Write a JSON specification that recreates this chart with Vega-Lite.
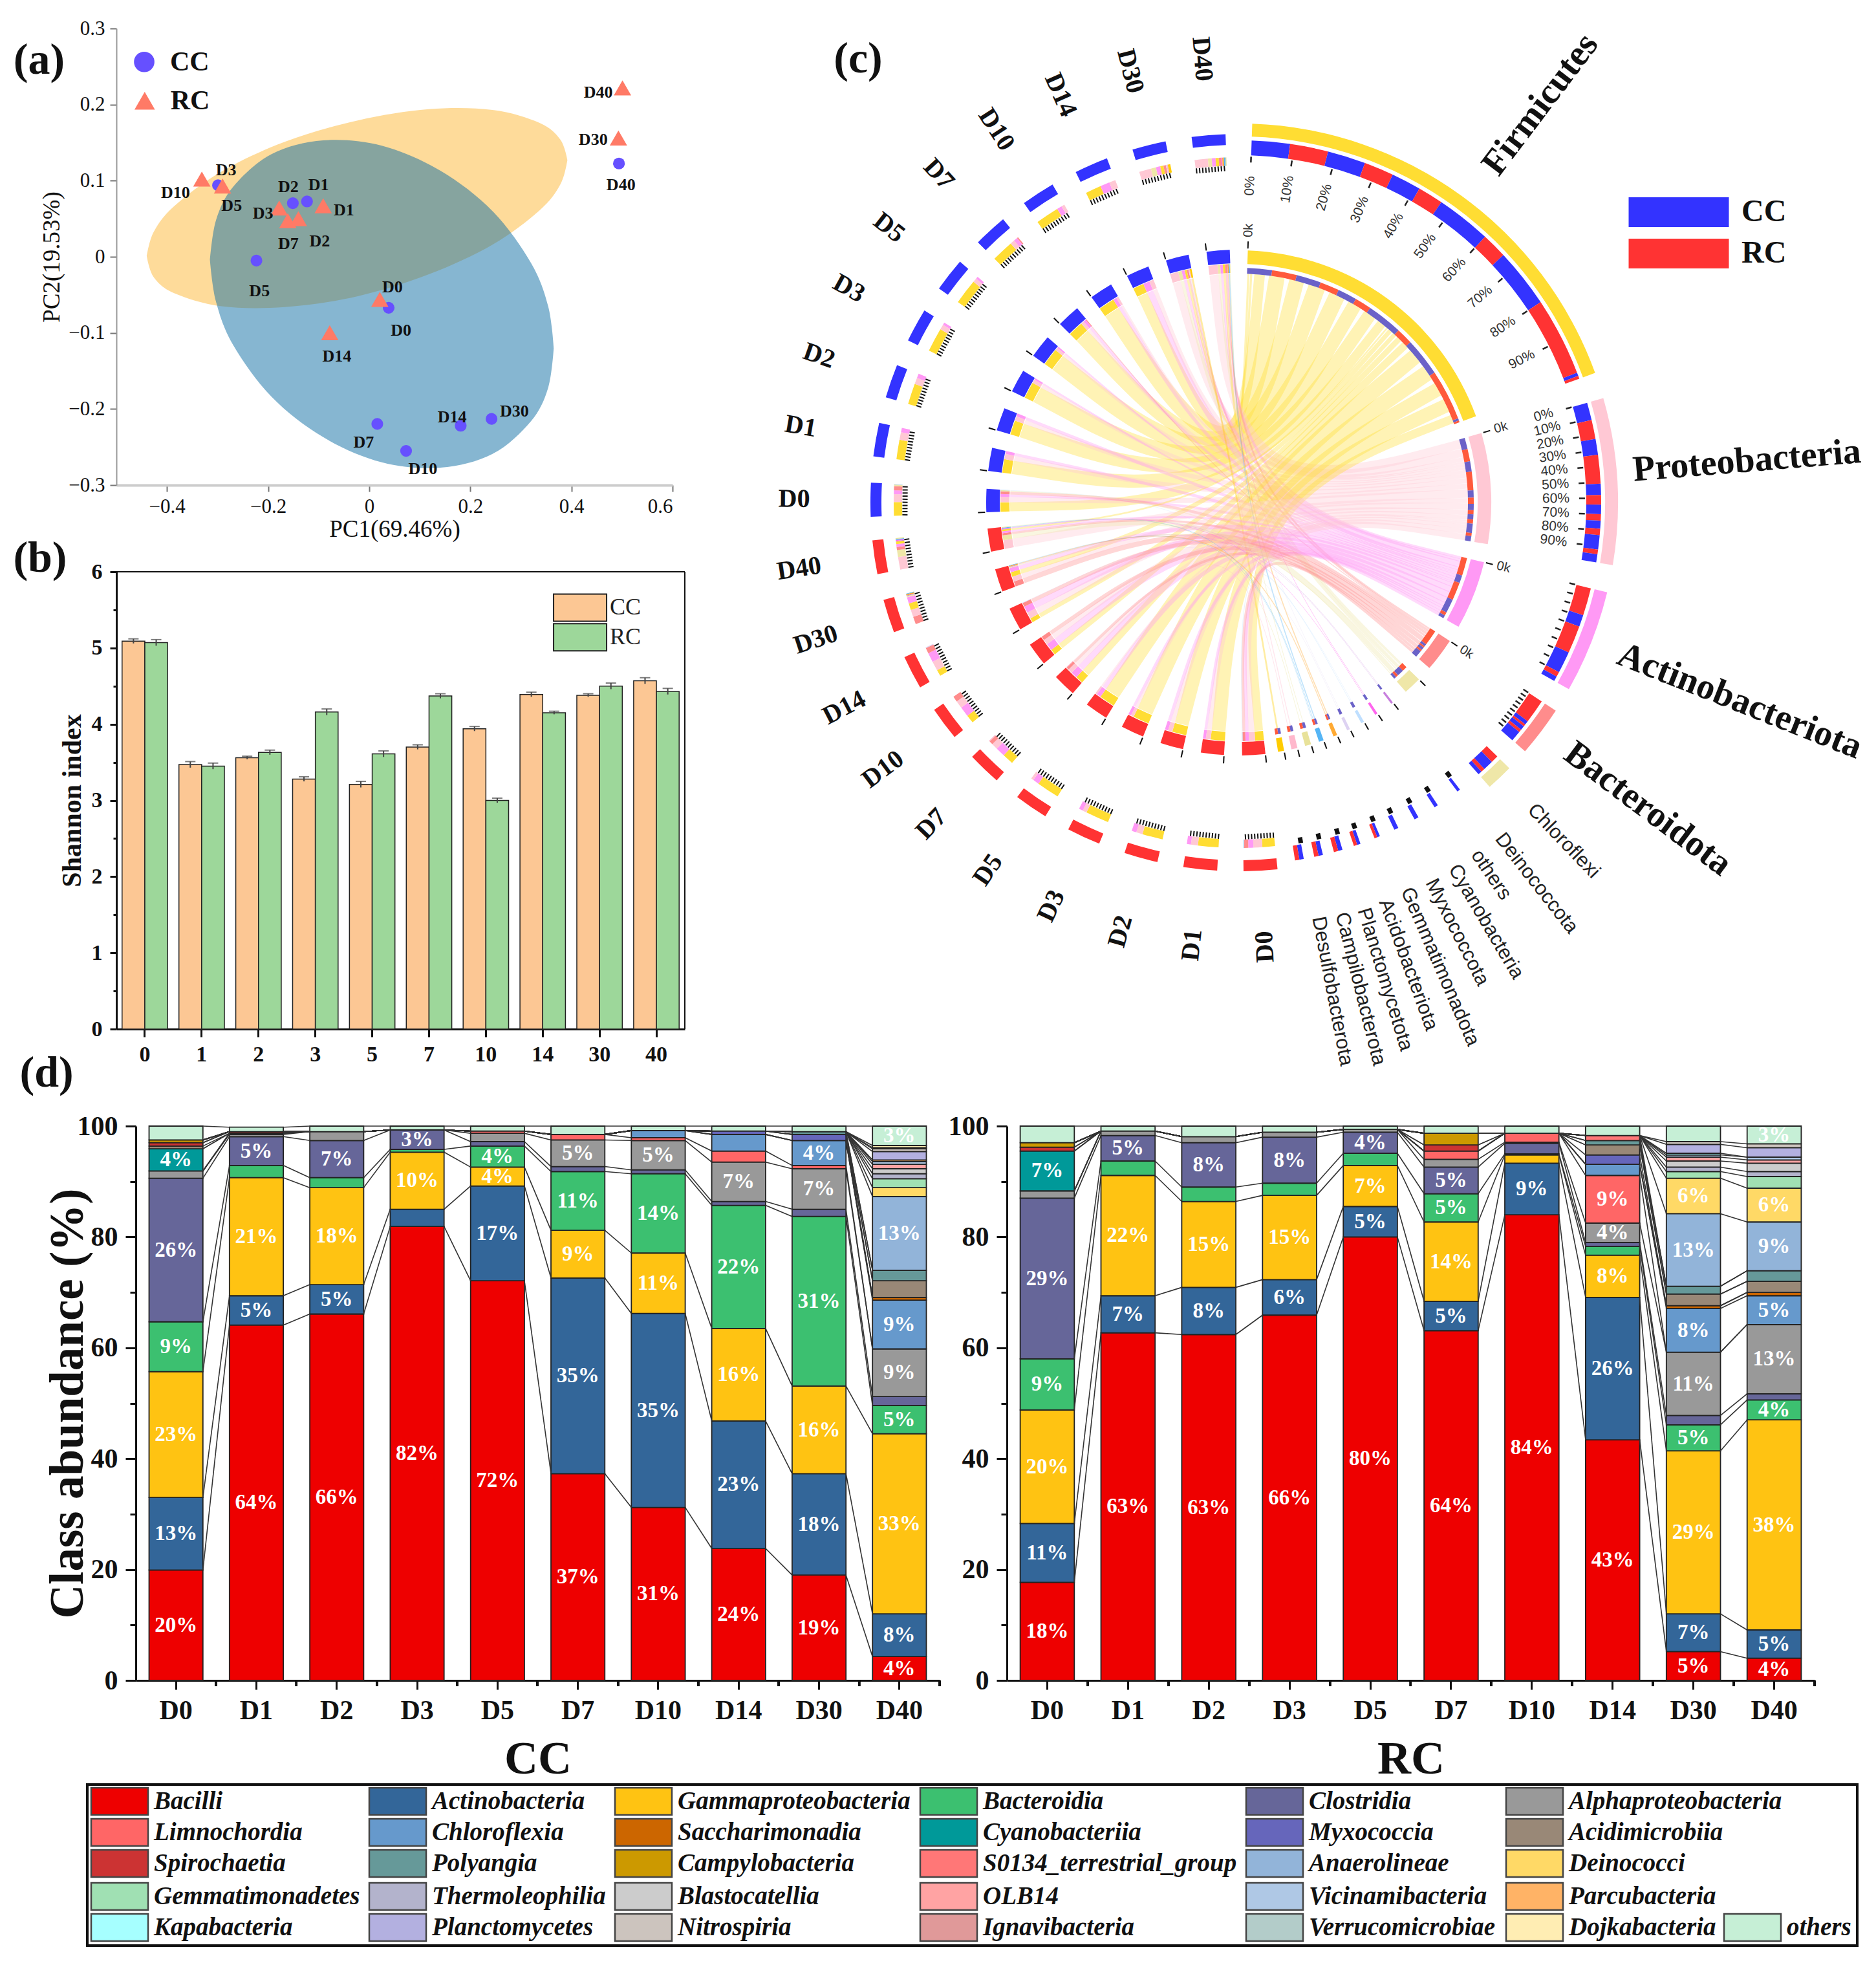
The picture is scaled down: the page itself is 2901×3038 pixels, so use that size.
{"$schema":"https://vega.github.io/schema/vega-lite/v6.json","background":"white","padding":{"left":20,"top":28,"right":5,"bottom":5},"autosize":{"type":"pad"},"config":{"font":"Liberation Serif","view":{"stroke":null},"axis":{"grid":false,"labelOverlap":false,"labelColor":"#111","titleColor":"#111"}},
"datasets":{
"classes":[{"class":"Bacilli","order":1,"col":1,"row":1},{"class":"Actinobacteria","order":2,"col":2,"row":1},{"class":"Gammaproteobacteria","order":3,"col":3,"row":1},{"class":"Bacteroidia","order":4,"col":4,"row":1},{"class":"Clostridia","order":5,"col":5,"row":1},{"class":"Alphaproteobacteria","order":6,"col":6,"row":1},{"class":"Limnochordia","order":7,"col":1,"row":2},{"class":"Chloroflexia","order":8,"col":2,"row":2},{"class":"Saccharimonadia","order":9,"col":3,"row":2},{"class":"Cyanobacteriia","order":10,"col":4,"row":2},{"class":"Myxococcia","order":11,"col":5,"row":2},{"class":"Acidimicrobiia","order":12,"col":6,"row":2},{"class":"Spirochaetia","order":13,"col":1,"row":3},{"class":"Polyangia","order":14,"col":2,"row":3},{"class":"Campylobacteria","order":15,"col":3,"row":3},{"class":"S0134_terrestrial_group","order":16,"col":4,"row":3},{"class":"Anaerolineae","order":17,"col":5,"row":3},{"class":"Deinococci","order":18,"col":6,"row":3},{"class":"Gemmatimonadetes","order":19,"col":1,"row":4},{"class":"Thermoleophilia","order":20,"col":2,"row":4},{"class":"Blastocatellia","order":21,"col":3,"row":4},{"class":"OLB14","order":22,"col":4,"row":4},{"class":"Vicinamibacteria","order":23,"col":5,"row":4},{"class":"Parcubacteria","order":24,"col":6,"row":4},{"class":"Kapabacteria","order":25,"col":1,"row":5},{"class":"Planctomycetes","order":26,"col":2,"row":5},{"class":"Nitrospiria","order":27,"col":3,"row":5},{"class":"Ignavibacteria","order":28,"col":4,"row":5},{"class":"Verrucomicrobiae","order":29,"col":5,"row":5},{"class":"Dojkabacteria","order":30,"col":6,"row":5},{"class":"others","order":31,"col":7,"row":5}],
"abundance":[
{"group":"CC","day":"D0","class":"Bacilli","value":19.9,"label":"20%"},{"group":"CC","day":"D0","class":"Actinobacteria","value":13.1,"label":"13%"},{"group":"CC","day":"D0","class":"Gammaproteobacteria","value":22.7,"label":"23%"},{"group":"CC","day":"D0","class":"Bacteroidia","value":9,"label":"9%"},{"group":"CC","day":"D0","class":"Clostridia","value":25.9,"label":"26%"},{"group":"CC","day":"D0","class":"Alphaproteobacteria","value":1.3},{"group":"CC","day":"D0","class":"Cyanobacteriia","value":4,"label":"4%"},{"group":"CC","day":"D0","class":"Acidimicrobiia","value":0.5},{"group":"CC","day":"D0","class":"Spirochaetia","value":0.6},{"group":"CC","day":"D0","class":"Campylobacteria","value":0.5},{"group":"CC","day":"D0","class":"others","value":2.5},
{"group":"CC","day":"D1","class":"Bacilli","value":64.1,"label":"64%"},{"group":"CC","day":"D1","class":"Actinobacteria","value":5.3,"label":"5%"},{"group":"CC","day":"D1","class":"Gammaproteobacteria","value":21.3,"label":"21%"},{"group":"CC","day":"D1","class":"Bacteroidia","value":2.2},{"group":"CC","day":"D1","class":"Clostridia","value":5.2,"label":"5%"},{"group":"CC","day":"D1","class":"Alphaproteobacteria","value":0.4},{"group":"CC","day":"D1","class":"Limnochordia","value":0.2},{"group":"CC","day":"D1","class":"Spirochaetia","value":0.3},{"group":"CC","day":"D1","class":"others","value":0.8},
{"group":"CC","day":"D2","class":"Bacilli","value":66.1,"label":"66%"},{"group":"CC","day":"D2","class":"Actinobacteria","value":5.3,"label":"5%"},{"group":"CC","day":"D2","class":"Gammaproteobacteria","value":17.5,"label":"18%"},{"group":"CC","day":"D2","class":"Bacteroidia","value":1.8},{"group":"CC","day":"D2","class":"Clostridia","value":6.7,"label":"7%"},{"group":"CC","day":"D2","class":"Alphaproteobacteria","value":1.6},{"group":"CC","day":"D2","class":"others","value":1},
{"group":"CC","day":"D3","class":"Bacilli","value":81.9,"label":"82%"},{"group":"CC","day":"D3","class":"Actinobacteria","value":3.1},{"group":"CC","day":"D3","class":"Gammaproteobacteria","value":10.3,"label":"10%"},{"group":"CC","day":"D3","class":"Bacteroidia","value":0.5},{"group":"CC","day":"D3","class":"Clostridia","value":3.5,"label":"3%"},{"group":"CC","day":"D3","class":"others","value":0.7},
{"group":"CC","day":"D5","class":"Bacilli","value":72.1,"label":"72%"},{"group":"CC","day":"D5","class":"Actinobacteria","value":17.1,"label":"17%"},{"group":"CC","day":"D5","class":"Gammaproteobacteria","value":3.4,"label":"4%"},{"group":"CC","day":"D5","class":"Bacteroidia","value":3.8,"label":"4%"},{"group":"CC","day":"D5","class":"Clostridia","value":0.8},{"group":"CC","day":"D5","class":"Alphaproteobacteria","value":1.5},{"group":"CC","day":"D5","class":"Limnochordia","value":0.4},{"group":"CC","day":"D5","class":"others","value":0.9},
{"group":"CC","day":"D7","class":"Bacilli","value":37.3,"label":"37%"},{"group":"CC","day":"D7","class":"Actinobacteria","value":35.3,"label":"35%"},{"group":"CC","day":"D7","class":"Gammaproteobacteria","value":8.6,"label":"9%"},{"group":"CC","day":"D7","class":"Bacteroidia","value":10.6,"label":"11%"},{"group":"CC","day":"D7","class":"Clostridia","value":0.9},{"group":"CC","day":"D7","class":"Alphaproteobacteria","value":4.8,"label":"5%"},{"group":"CC","day":"D7","class":"Limnochordia","value":1},{"group":"CC","day":"D7","class":"others","value":1.5},
{"group":"CC","day":"D10","class":"Bacilli","value":31.2,"label":"31%"},{"group":"CC","day":"D10","class":"Actinobacteria","value":35,"label":"35%"},{"group":"CC","day":"D10","class":"Gammaproteobacteria","value":10.9,"label":"11%"},{"group":"CC","day":"D10","class":"Bacteroidia","value":14.3,"label":"14%"},{"group":"CC","day":"D10","class":"Clostridia","value":0.7},{"group":"CC","day":"D10","class":"Alphaproteobacteria","value":5.3,"label":"5%"},{"group":"CC","day":"D10","class":"Limnochordia","value":0.5},{"group":"CC","day":"D10","class":"Chloroflexia","value":1.3},{"group":"CC","day":"D10","class":"others","value":0.8},
{"group":"CC","day":"D14","class":"Bacilli","value":23.8,"label":"24%"},{"group":"CC","day":"D14","class":"Actinobacteria","value":23,"label":"23%"},{"group":"CC","day":"D14","class":"Gammaproteobacteria","value":16.7,"label":"16%"},{"group":"CC","day":"D14","class":"Bacteroidia","value":22.2,"label":"22%"},{"group":"CC","day":"D14","class":"Clostridia","value":0.7},{"group":"CC","day":"D14","class":"Alphaproteobacteria","value":7.1,"label":"7%"},{"group":"CC","day":"D14","class":"Limnochordia","value":2},{"group":"CC","day":"D14","class":"Chloroflexia","value":3},{"group":"CC","day":"D14","class":"Myxococcia","value":0.6},{"group":"CC","day":"D14","class":"others","value":0.9},
{"group":"CC","day":"D30","class":"Bacilli","value":19,"label":"19%"},{"group":"CC","day":"D30","class":"Actinobacteria","value":18.3,"label":"18%"},{"group":"CC","day":"D30","class":"Gammaproteobacteria","value":15.8,"label":"16%"},{"group":"CC","day":"D30","class":"Bacteroidia","value":30.6,"label":"31%"},{"group":"CC","day":"D30","class":"Clostridia","value":1.3},{"group":"CC","day":"D30","class":"Alphaproteobacteria","value":7.3,"label":"7%"},{"group":"CC","day":"D30","class":"Limnochordia","value":0.6},{"group":"CC","day":"D30","class":"Chloroflexia","value":4.5,"label":"4%"},{"group":"CC","day":"D30","class":"Myxococcia","value":1.1},{"group":"CC","day":"D30","class":"Polyangia","value":0.5},{"group":"CC","day":"D30","class":"others","value":1},
{"group":"CC","day":"D40","class":"Bacilli","value":4.3,"label":"4%"},{"group":"CC","day":"D40","class":"Actinobacteria","value":7.7,"label":"8%"},{"group":"CC","day":"D40","class":"Gammaproteobacteria","value":32.5,"label":"33%"},{"group":"CC","day":"D40","class":"Bacteroidia","value":5.1,"label":"5%"},{"group":"CC","day":"D40","class":"Clostridia","value":1.6},{"group":"CC","day":"D40","class":"Alphaproteobacteria","value":8.6,"label":"9%"},{"group":"CC","day":"D40","class":"Chloroflexia","value":8.8,"label":"9%"},{"group":"CC","day":"D40","class":"Saccharimonadia","value":0.5},{"group":"CC","day":"D40","class":"Acidimicrobiia","value":3},{"group":"CC","day":"D40","class":"Polyangia","value":1.9},{"group":"CC","day":"D40","class":"Anaerolineae","value":13.3,"label":"13%"},{"group":"CC","day":"D40","class":"Deinococci","value":1.6},{"group":"CC","day":"D40","class":"Gemmatimonadetes","value":1.6},{"group":"CC","day":"D40","class":"Thermoleophilia","value":0.9},{"group":"CC","day":"D40","class":"Blastocatellia","value":0.9},{"group":"CC","day":"D40","class":"OLB14","value":0.8},{"group":"CC","day":"D40","class":"Vicinamibacteria","value":0.5},{"group":"CC","day":"D40","class":"Parcubacteria","value":0.3},{"group":"CC","day":"D40","class":"Planctomycetes","value":1.5},{"group":"CC","day":"D40","class":"Nitrospiria","value":0.5},{"group":"CC","day":"D40","class":"Ignavibacteria","value":0.2},{"group":"CC","day":"D40","class":"Dojkabacteria","value":0.4},{"group":"CC","day":"D40","class":"others","value":3.5,"label":"3%"},
{"group":"RC","day":"D0","class":"Bacilli","value":17.7,"label":"18%"},{"group":"RC","day":"D0","class":"Actinobacteria","value":10.6,"label":"11%"},{"group":"RC","day":"D0","class":"Gammaproteobacteria","value":20.5,"label":"20%"},{"group":"RC","day":"D0","class":"Bacteroidia","value":9.2,"label":"9%"},{"group":"RC","day":"D0","class":"Clostridia","value":29,"label":"29%"},{"group":"RC","day":"D0","class":"Alphaproteobacteria","value":1.3},{"group":"RC","day":"D0","class":"Cyanobacteriia","value":7.2,"label":"7%"},{"group":"RC","day":"D0","class":"Spirochaetia","value":0.7},{"group":"RC","day":"D0","class":"Campylobacteria","value":0.8},{"group":"RC","day":"D0","class":"others","value":3},
{"group":"RC","day":"D1","class":"Bacilli","value":62.7,"label":"63%"},{"group":"RC","day":"D1","class":"Actinobacteria","value":6.7,"label":"7%"},{"group":"RC","day":"D1","class":"Gammaproteobacteria","value":21.7,"label":"22%"},{"group":"RC","day":"D1","class":"Bacteroidia","value":2.6},{"group":"RC","day":"D1","class":"Clostridia","value":4.6,"label":"5%"},{"group":"RC","day":"D1","class":"Alphaproteobacteria","value":0.8},{"group":"RC","day":"D1","class":"others","value":0.9},
{"group":"RC","day":"D2","class":"Bacilli","value":62.4,"label":"63%"},{"group":"RC","day":"D2","class":"Actinobacteria","value":8.5,"label":"8%"},{"group":"RC","day":"D2","class":"Gammaproteobacteria","value":15.5,"label":"15%"},{"group":"RC","day":"D2","class":"Bacteroidia","value":2.6},{"group":"RC","day":"D2","class":"Clostridia","value":8,"label":"8%"},{"group":"RC","day":"D2","class":"Alphaproteobacteria","value":1.1},{"group":"RC","day":"D2","class":"others","value":1.9},
{"group":"RC","day":"D3","class":"Bacilli","value":65.9,"label":"66%"},{"group":"RC","day":"D3","class":"Actinobacteria","value":6.4,"label":"6%"},{"group":"RC","day":"D3","class":"Gammaproteobacteria","value":15.2,"label":"15%"},{"group":"RC","day":"D3","class":"Bacteroidia","value":2.2},{"group":"RC","day":"D3","class":"Clostridia","value":8.3,"label":"8%"},{"group":"RC","day":"D3","class":"Alphaproteobacteria","value":0.9},{"group":"RC","day":"D3","class":"others","value":1.1},
{"group":"RC","day":"D5","class":"Bacilli","value":80,"label":"80%"},{"group":"RC","day":"D5","class":"Actinobacteria","value":5.5,"label":"5%"},{"group":"RC","day":"D5","class":"Gammaproteobacteria","value":7.4,"label":"7%"},{"group":"RC","day":"D5","class":"Bacteroidia","value":2.2},{"group":"RC","day":"D5","class":"Clostridia","value":3.8,"label":"4%"},{"group":"RC","day":"D5","class":"Alphaproteobacteria","value":0.5},{"group":"RC","day":"D5","class":"others","value":0.6},
{"group":"RC","day":"D7","class":"Bacilli","value":63.1,"label":"64%"},{"group":"RC","day":"D7","class":"Actinobacteria","value":5.3,"label":"5%"},{"group":"RC","day":"D7","class":"Gammaproteobacteria","value":14.3,"label":"14%"},{"group":"RC","day":"D7","class":"Bacteroidia","value":5.1,"label":"5%"},{"group":"RC","day":"D7","class":"Clostridia","value":4.8,"label":"5%"},{"group":"RC","day":"D7","class":"Alphaproteobacteria","value":1.4},{"group":"RC","day":"D7","class":"Limnochordia","value":1.5},{"group":"RC","day":"D7","class":"Spirochaetia","value":1.1},{"group":"RC","day":"D7","class":"Campylobacteria","value":2.1},{"group":"RC","day":"D7","class":"others","value":1.3},
{"group":"RC","day":"D10","class":"Bacilli","value":84,"label":"84%"},{"group":"RC","day":"D10","class":"Actinobacteria","value":9.3,"label":"9%"},{"group":"RC","day":"D10","class":"Gammaproteobacteria","value":1.5},{"group":"RC","day":"D10","class":"Bacteroidia","value":0.2},{"group":"RC","day":"D10","class":"Clostridia","value":1.9},{"group":"RC","day":"D10","class":"Alphaproteobacteria","value":0.2},{"group":"RC","day":"D10","class":"Limnochordia","value":1.6},{"group":"RC","day":"D10","class":"others","value":1.3},
{"group":"RC","day":"D14","class":"Bacilli","value":43.4,"label":"43%"},{"group":"RC","day":"D14","class":"Actinobacteria","value":25.7,"label":"26%"},{"group":"RC","day":"D14","class":"Gammaproteobacteria","value":7.6,"label":"8%"},{"group":"RC","day":"D14","class":"Bacteroidia","value":1.6},{"group":"RC","day":"D14","class":"Clostridia","value":0.7},{"group":"RC","day":"D14","class":"Alphaproteobacteria","value":3.5,"label":"4%"},{"group":"RC","day":"D14","class":"Limnochordia","value":8.6,"label":"9%"},{"group":"RC","day":"D14","class":"Chloroflexia","value":2},{"group":"RC","day":"D14","class":"Myxococcia","value":1.7},{"group":"RC","day":"D14","class":"Acidimicrobiia","value":1.8},{"group":"RC","day":"D14","class":"Polyangia","value":0.8},{"group":"RC","day":"D14","class":"S0134_terrestrial_group","value":0.9},{"group":"RC","day":"D14","class":"others","value":1.7},
{"group":"RC","day":"D30","class":"Bacilli","value":5.2,"label":"5%"},{"group":"RC","day":"D30","class":"Actinobacteria","value":6.8,"label":"7%"},{"group":"RC","day":"D30","class":"Gammaproteobacteria","value":29.4,"label":"29%"},{"group":"RC","day":"D30","class":"Bacteroidia","value":4.7,"label":"5%"},{"group":"RC","day":"D30","class":"Clostridia","value":1.7},{"group":"RC","day":"D30","class":"Alphaproteobacteria","value":11.4,"label":"11%"},{"group":"RC","day":"D30","class":"Chloroflexia","value":7.9,"label":"8%"},{"group":"RC","day":"D30","class":"Saccharimonadia","value":0.5},{"group":"RC","day":"D30","class":"Acidimicrobiia","value":2.1},{"group":"RC","day":"D30","class":"Polyangia","value":1.4},{"group":"RC","day":"D30","class":"Anaerolineae","value":13.1,"label":"13%"},{"group":"RC","day":"D30","class":"Deinococci","value":6.4,"label":"6%"},{"group":"RC","day":"D30","class":"Gemmatimonadetes","value":1.2},{"group":"RC","day":"D30","class":"Thermoleophilia","value":0.8},{"group":"RC","day":"D30","class":"Blastocatellia","value":1.1},{"group":"RC","day":"D30","class":"OLB14","value":0.7},{"group":"RC","day":"D30","class":"Vicinamibacteria","value":0.4},{"group":"RC","day":"D30","class":"Kapabacteria","value":0.3},{"group":"RC","day":"D30","class":"Planctomycetes","value":1.6},{"group":"RC","day":"D30","class":"Nitrospiria","value":0.5},{"group":"RC","day":"D30","class":"others","value":2.8},
{"group":"RC","day":"D40","class":"Bacilli","value":4,"label":"4%"},{"group":"RC","day":"D40","class":"Actinobacteria","value":5.1,"label":"5%"},{"group":"RC","day":"D40","class":"Gammaproteobacteria","value":37.9,"label":"38%"},{"group":"RC","day":"D40","class":"Bacteroidia","value":3.6,"label":"4%"},{"group":"RC","day":"D40","class":"Clostridia","value":1.1},{"group":"RC","day":"D40","class":"Alphaproteobacteria","value":12.5,"label":"13%"},{"group":"RC","day":"D40","class":"Chloroflexia","value":5.2,"label":"5%"},{"group":"RC","day":"D40","class":"Saccharimonadia","value":0.6},{"group":"RC","day":"D40","class":"Acidimicrobiia","value":2},{"group":"RC","day":"D40","class":"Polyangia","value":1.9},{"group":"RC","day":"D40","class":"Anaerolineae","value":8.8,"label":"9%"},{"group":"RC","day":"D40","class":"Deinococci","value":6.1,"label":"6%"},{"group":"RC","day":"D40","class":"Gemmatimonadetes","value":2.1},{"group":"RC","day":"D40","class":"Thermoleophilia","value":0.9},{"group":"RC","day":"D40","class":"Blastocatellia","value":1.5},{"group":"RC","day":"D40","class":"OLB14","value":0.6},{"group":"RC","day":"D40","class":"Vicinamibacteria","value":0.5},{"group":"RC","day":"D40","class":"Planctomycetes","value":1.7},{"group":"RC","day":"D40","class":"Nitrospiria","value":0.7},{"group":"RC","day":"D40","class":"others","value":3.2,"label":"3%"}],
"days":[{"side":"CC","day":"D0","start":267.8},{"side":"CC","day":"D1","start":277.2},{"side":"CC","day":"D2","start":286.6},{"side":"CC","day":"D3","start":296.1},{"side":"CC","day":"D5","start":305.5},{"side":"CC","day":"D7","start":314.9},{"side":"CC","day":"D10","start":324.3},{"side":"CC","day":"D14","start":333.7},{"side":"CC","day":"D30","start":343.2},{"side":"CC","day":"D40","start":352.6},{"side":"RC","day":"D0","start":174},{"side":"RC","day":"D1","start":183.4},{"side":"RC","day":"D2","start":192.8},{"side":"RC","day":"D3","start":202.3},{"side":"RC","day":"D5","start":211.7},{"side":"RC","day":"D7","start":221.1},{"side":"RC","day":"D10","start":230.5},{"side":"RC","day":"D14","start":239.9},{"side":"RC","day":"D30","start":249.4},{"side":"RC","day":"D40","start":258.8}],
"sectors":[{"phylum":"Firmicutes","a0":2,"a1":70,"labelAngle":37.1,"labelRadius":772,"kind":"major"},{"phylum":"Proteobacteria","a0":74,"a1":99.5,"labelAngle":85.3,"labelRadius":788,"kind":"major"},{"phylum":"Actinobacteriota","a0":103.7,"a1":119.5,"labelAngle":111.6,"labelRadius":833,"kind":"major"},{"phylum":"Bacteroidota","a0":123.3,"a1":131,"labelAngle":126.8,"labelRadius":790,"kind":"major"},{"phylum":"Chloroflexi","a0":134.5,"a1":138.6,"labelAngle":136.2,"labelRadius":725,"kind":"minor"},{"phylum":"Deinococcota","a0":142.4,"a1":142.9,"labelAngle":142,"labelRadius":747,"kind":"small"},{"phylum":"others","a0":146.7,"a1":147.3,"labelAngle":145.9,"labelRadius":695,"kind":"small"},{"phylum":"Cyanobacteria","a0":150.3,"a1":151,"labelAngle":149.5,"labelRadius":752,"kind":"small"},{"phylum":"Myxococcota","a0":153.9,"a1":154.6,"labelAngle":153.1,"labelRadius":745,"kind":"small"},{"phylum":"Gemmatimonadota","a0":157.1,"a1":158,"labelAngle":156.6,"labelRadius":782,"kind":"small"},{"phylum":"Acidobacteriota","a0":160.4,"a1":161.5,"labelAngle":159.9,"labelRadius":761,"kind":"small"},{"phylum":"Planctomycetota","a0":163.4,"a1":164.8,"labelAngle":163,"labelRadius":771,"kind":"small"},{"phylum":"Campilobacterota","a0":166.6,"a1":168,"labelAngle":166,"labelRadius":775,"kind":"small"},{"phylum":"Desulfobacterota","a0":169.7,"a1":171.1,"labelAngle":169.2,"labelRadius":769,"kind":"small"}],
"segments":[
{"side":"CC","day":"D0","start":267.8,"phylum":"Firmicutes","share":0.43},{"side":"CC","day":"D0","start":267.8,"phylum":"Proteobacteria","share":0.25},{"side":"CC","day":"D0","start":267.8,"phylum":"Actinobacteriota","share":0.12},{"side":"CC","day":"D0","start":267.8,"phylum":"Bacteroidota","share":0.13},{"side":"CC","day":"D0","start":267.8,"phylum":"Chloroflexi","share":0.05},{"side":"CC","day":"D0","start":267.8,"phylum":"Cyanobacteria","share":0.02},
{"side":"CC","day":"D1","start":277.2,"phylum":"Firmicutes","share":0.62},{"side":"CC","day":"D1","start":277.2,"phylum":"Proteobacteria","share":0.24},{"side":"CC","day":"D1","start":277.2,"phylum":"Actinobacteriota","share":0.14},
{"side":"CC","day":"D2","start":286.6,"phylum":"Firmicutes","share":0.66},{"side":"CC","day":"D2","start":286.6,"phylum":"Proteobacteria","share":0.2},{"side":"CC","day":"D2","start":286.6,"phylum":"Actinobacteriota","share":0.14},
{"side":"CC","day":"D3","start":296.1,"phylum":"Firmicutes","share":0.76},{"side":"CC","day":"D3","start":296.1,"phylum":"Proteobacteria","share":0.16},{"side":"CC","day":"D3","start":296.1,"phylum":"Actinobacteriota","share":0.08},
{"side":"CC","day":"D5","start":305.5,"phylum":"Firmicutes","share":0.8},{"side":"CC","day":"D5","start":305.5,"phylum":"Proteobacteria","share":0.13},{"side":"CC","day":"D5","start":305.5,"phylum":"Actinobacteriota","share":0.07},
{"side":"CC","day":"D7","start":314.9,"phylum":"Firmicutes","share":0.7},{"side":"CC","day":"D7","start":314.9,"phylum":"Proteobacteria","share":0.14},{"side":"CC","day":"D7","start":314.9,"phylum":"Actinobacteriota","share":0.12},{"side":"CC","day":"D7","start":314.9,"phylum":"Bacteroidota","share":0.04},
{"side":"CC","day":"D10","start":324.3,"phylum":"Firmicutes","share":0.74},{"side":"CC","day":"D10","start":324.3,"phylum":"Actinobacteriota","share":0.16},{"side":"CC","day":"D10","start":324.3,"phylum":"Proteobacteria","share":0.1},
{"side":"CC","day":"D14","start":333.7,"phylum":"Firmicutes","share":0.5},{"side":"CC","day":"D14","start":333.7,"phylum":"Actinobacteriota","share":0.3},{"side":"CC","day":"D14","start":333.7,"phylum":"Proteobacteria","share":0.2},
{"side":"CC","day":"D30","start":343.2,"phylum":"Proteobacteria","share":0.38},{"side":"CC","day":"D30","start":343.2,"phylum":"Chloroflexi","share":0.16},{"side":"CC","day":"D30","start":343.2,"phylum":"Actinobacteriota","share":0.14},{"side":"CC","day":"D30","start":343.2,"phylum":"Firmicutes","share":0.1},{"side":"CC","day":"D30","start":343.2,"phylum":"Bacteroidota","share":0.08},{"side":"CC","day":"D30","start":343.2,"phylum":"Myxococcota","share":0.02},{"side":"CC","day":"D30","start":343.2,"phylum":"Campilobacterota","share":0.04},{"side":"CC","day":"D30","start":343.2,"phylum":"Desulfobacterota","share":0.08},
{"side":"CC","day":"D40","start":352.6,"phylum":"Proteobacteria","share":0.42},{"side":"CC","day":"D40","start":352.6,"phylum":"Chloroflexi","share":0.12},{"side":"CC","day":"D40","start":352.6,"phylum":"Actinobacteriota","share":0.12},{"side":"CC","day":"D40","start":352.6,"phylum":"Firmicutes","share":0.1},{"side":"CC","day":"D40","start":352.6,"phylum":"Bacteroidota","share":0.08},{"side":"CC","day":"D40","start":352.6,"phylum":"others","share":0.03},{"side":"CC","day":"D40","start":352.6,"phylum":"Gemmatimonadota","share":0.05},{"side":"CC","day":"D40","start":352.6,"phylum":"Acidobacteriota","share":0.05},{"side":"CC","day":"D40","start":352.6,"phylum":"Planctomycetota","share":0.03},
{"side":"RC","day":"D0","start":174,"phylum":"Firmicutes","share":0.4},{"side":"RC","day":"D0","start":174,"phylum":"Proteobacteria","share":0.28},{"side":"RC","day":"D0","start":174,"phylum":"Actinobacteriota","share":0.16},{"side":"RC","day":"D0","start":174,"phylum":"Bacteroidota","share":0.13},{"side":"RC","day":"D0","start":174,"phylum":"Cyanobacteria","share":0.03},
{"side":"RC","day":"D1","start":183.4,"phylum":"Firmicutes","share":0.65},{"side":"RC","day":"D1","start":183.4,"phylum":"Proteobacteria","share":0.22},{"side":"RC","day":"D1","start":183.4,"phylum":"Actinobacteriota","share":0.13},
{"side":"RC","day":"D2","start":192.8,"phylum":"Firmicutes","share":0.65},{"side":"RC","day":"D2","start":192.8,"phylum":"Proteobacteria","share":0.2},{"side":"RC","day":"D2","start":192.8,"phylum":"Actinobacteriota","share":0.15},
{"side":"RC","day":"D3","start":202.3,"phylum":"Firmicutes","share":0.74},{"side":"RC","day":"D3","start":202.3,"phylum":"Proteobacteria","share":0.13},{"side":"RC","day":"D3","start":202.3,"phylum":"Actinobacteriota","share":0.13},
{"side":"RC","day":"D5","start":211.7,"phylum":"Firmicutes","share":0.72},{"side":"RC","day":"D5","start":211.7,"phylum":"Actinobacteriota","share":0.2},{"side":"RC","day":"D5","start":211.7,"phylum":"Proteobacteria","share":0.08},
{"side":"RC","day":"D7","start":221.1,"phylum":"Firmicutes","share":0.35},{"side":"RC","day":"D7","start":221.1,"phylum":"Actinobacteriota","share":0.3},{"side":"RC","day":"D7","start":221.1,"phylum":"Proteobacteria","share":0.2},{"side":"RC","day":"D7","start":221.1,"phylum":"Bacteroidota","share":0.12},{"side":"RC","day":"D7","start":221.1,"phylum":"Campilobacterota","share":0.03},
{"side":"RC","day":"D10","start":230.5,"phylum":"Firmicutes","share":0.26},{"side":"RC","day":"D10","start":230.5,"phylum":"Actinobacteriota","share":0.32},{"side":"RC","day":"D10","start":230.5,"phylum":"Proteobacteria","share":0.24},{"side":"RC","day":"D10","start":230.5,"phylum":"Bacteroidota","share":0.18},
{"side":"RC","day":"D14","start":239.9,"phylum":"Firmicutes","share":0.2},{"side":"RC","day":"D14","start":239.9,"phylum":"Proteobacteria","share":0.3},{"side":"RC","day":"D14","start":239.9,"phylum":"Actinobacteriota","share":0.3},{"side":"RC","day":"D14","start":239.9,"phylum":"Bacteroidota","share":0.18},{"side":"RC","day":"D14","start":239.9,"phylum":"Myxococcota","share":0.02},
{"side":"RC","day":"D30","start":249.4,"phylum":"Bacteroidota","share":0.24},{"side":"RC","day":"D30","start":249.4,"phylum":"Proteobacteria","share":0.23},{"side":"RC","day":"D30","start":249.4,"phylum":"Firmicutes","share":0.21},{"side":"RC","day":"D30","start":249.4,"phylum":"Actinobacteriota","share":0.2},{"side":"RC","day":"D30","start":249.4,"phylum":"Chloroflexi","share":0.04},{"side":"RC","day":"D30","start":249.4,"phylum":"Deinococcota","share":0.02},{"side":"RC","day":"D30","start":249.4,"phylum":"Gemmatimonadota","share":0.04},{"side":"RC","day":"D30","start":249.4,"phylum":"Acidobacteriota","share":0.02},
{"side":"RC","day":"D40","start":258.8,"phylum":"Proteobacteria","share":0.4},{"side":"RC","day":"D40","start":258.8,"phylum":"Chloroflexi","share":0.22},{"side":"RC","day":"D40","start":258.8,"phylum":"Bacteroidota","share":0.1},{"side":"RC","day":"D40","start":258.8,"phylum":"Actinobacteriota","share":0.09},{"side":"RC","day":"D40","start":258.8,"phylum":"Firmicutes","share":0.08},{"side":"RC","day":"D40","start":258.8,"phylum":"Deinococcota","share":0.02},{"side":"RC","day":"D40","start":258.8,"phylum":"others","share":0.03},{"side":"RC","day":"D40","start":258.8,"phylum":"Acidobacteriota","share":0.03},{"side":"RC","day":"D40","start":258.8,"phylum":"Planctomycetota","share":0.03}],
"mix":[
{"phylum":"Firmicutes","side":"CC","from":0,"to":9},{"phylum":"Firmicutes","side":"RC","from":9,"to":18},{"phylum":"Firmicutes","side":"CC","from":18,"to":27},{"phylum":"Firmicutes","side":"RC","from":27,"to":34},{"phylum":"Firmicutes","side":"CC","from":34,"to":41},{"phylum":"Firmicutes","side":"RC","from":41,"to":47},{"phylum":"Firmicutes","side":"CC","from":47,"to":60},{"phylum":"Firmicutes","side":"RC","from":60,"to":66},{"phylum":"Firmicutes","side":"CC","from":66,"to":80},{"phylum":"Firmicutes","side":"RC","from":80,"to":98.5},{"phylum":"Firmicutes","side":"CC","from":98.5,"to":99.3},{"phylum":"Firmicutes","side":"RC","from":99.3,"to":100},
{"phylum":"Proteobacteria","side":"CC","from":0,"to":11},{"phylum":"Proteobacteria","side":"RC","from":11,"to":23},{"phylum":"Proteobacteria","side":"CC","from":23,"to":33},{"phylum":"Proteobacteria","side":"RC","from":33,"to":51},{"phylum":"Proteobacteria","side":"CC","from":51,"to":58},{"phylum":"Proteobacteria","side":"RC","from":58,"to":64},{"phylum":"Proteobacteria","side":"CC","from":64,"to":70},{"phylum":"Proteobacteria","side":"RC","from":70,"to":74},{"phylum":"Proteobacteria","side":"CC","from":74,"to":79},{"phylum":"Proteobacteria","side":"RC","from":79,"to":83},{"phylum":"Proteobacteria","side":"CC","from":83,"to":92},{"phylum":"Proteobacteria","side":"RC","from":92,"to":95},{"phylum":"Proteobacteria","side":"CC","from":95,"to":100},
{"phylum":"Actinobacteriota","side":"RC","from":0,"to":28},{"phylum":"Actinobacteriota","side":"CC","from":28,"to":40},{"phylum":"Actinobacteriota","side":"RC","from":40,"to":68},{"phylum":"Actinobacteriota","side":"CC","from":68,"to":90},{"phylum":"Actinobacteriota","side":"RC","from":90,"to":95},{"phylum":"Actinobacteriota","side":"CC","from":95,"to":100},
{"phylum":"Bacteroidota","side":"RC","from":0,"to":50},{"phylum":"Bacteroidota","side":"CC","from":50,"to":58},{"phylum":"Bacteroidota","side":"RC","from":58,"to":63},{"phylum":"Bacteroidota","side":"CC","from":63,"to":72},{"phylum":"Bacteroidota","side":"RC","from":72,"to":78},{"phylum":"Bacteroidota","side":"CC","from":78,"to":100},
{"phylum":"Chloroflexi","side":"RC","from":0,"to":30},{"phylum":"Chloroflexi","side":"CC","from":30,"to":70},{"phylum":"Chloroflexi","side":"RC","from":70,"to":85},{"phylum":"Chloroflexi","side":"CC","from":85,"to":100},
{"phylum":"Deinococcota","side":"CC","from":0,"to":100},{"phylum":"others","side":"CC","from":0,"to":100},{"phylum":"Cyanobacteria","side":"CC","from":0,"to":100},{"phylum":"Myxococcota","side":"CC","from":0,"to":100},
{"phylum":"Gemmatimonadota","side":"CC","from":0,"to":50},{"phylum":"Gemmatimonadota","side":"RC","from":50,"to":100},{"phylum":"Acidobacteriota","side":"CC","from":0,"to":50},{"phylum":"Acidobacteriota","side":"RC","from":50,"to":100},{"phylum":"Planctomycetota","side":"CC","from":0,"to":50},{"phylum":"Planctomycetota","side":"RC","from":50,"to":100},{"phylum":"Campilobacterota","side":"CC","from":0,"to":50},{"phylum":"Campilobacterota","side":"RC","from":50,"to":100},{"phylum":"Desulfobacterota","side":"CC","from":0,"to":50},{"phylum":"Desulfobacterota","side":"RC","from":50,"to":100}],
"axisTicks":[{"phylum":"Firmicutes","pct":[0,10,20,30,40,50,60,70,80,90],"labelled":true},{"phylum":"Proteobacteria","pct":[0,10,20,30,40,50,60,70,80,90],"labelled":true},{"phylum":"Actinobacteriota","pct":[0,10,20,30,40,50,60,70,80,90],"labelled":false},{"phylum":"Bacteroidota","pct":[0,10,20,30,40,50,60,70,80,90],"labelled":false}]
},
"vconcat":[
{"vconcat":[
{"hconcat":[
{"width":1,"height":1,"data":{"values":[{"a":1}]},"mark":{"type":"point","opacity":0}},
{"hconcat":[
{"vconcat":[
{"width":860,"height":706,
"layer":[
{"data":{"values":[{"pc1":-0.44,"upper":0.001,"lower":0.001},{"pc1":-0.426,"upper":0.033,"lower":-0.027},{"pc1":-0.385,"upper":0.067,"lower":-0.048},{"pc1":-0.292,"upper":0.112,"lower":-0.065},{"pc1":-0.167,"upper":0.151,"lower":-0.066},{"pc1":-0.024,"upper":0.179,"lower":-0.052},{"pc1":0.118,"upper":0.194,"lower":-0.023},{"pc1":0.244,"upper":0.193,"lower":0.016},{"pc1":0.337,"upper":0.176,"lower":0.061},{"pc1":0.378,"upper":0.154,"lower":0.095},{"pc1":0.392,"upper":0.127,"lower":0.127}]},
"mark":{"type":"area","color":"#FDB735","opacity":0.5,"interpolate":"cardinal"},
"encoding":{"x":{"field":"pc1","type":"quantitative","scale":{"domain":[-0.5,0.6],"nice":false},"axis":{"values":[-0.4,-0.2,0,0.2,0.4,0.6],"labelExpr":"datum.value==0?'0':format(datum.value,'.1f')","title":"PC1(69.46%)","titleFontSize":37,"titleFontWeight":"normal","labelFontSize":31,"tickSize":10,"tickColor":"#777","domainColor":"#ccc","domainWidth":4,"labelPadding":8,"titlePadding":2,"tickWidth":2}},"y":{"field":"upper","type":"quantitative","scale":{"domain":[-0.3,0.3],"nice":false},"axis":{"values":[-0.3,-0.2,-0.1,0,0.1,0.2,0.3],"labelExpr":"datum.value==0?'0':format(datum.value,'.1f')","title":"PC2(19.53%)","titleFontSize":37,"titleFontWeight":"normal","labelFontSize":31,"tickSize":10,"tickColor":"#777","domainColor":"#999","domainWidth":2,"labelPadding":8,"titlePadding":6,"tickWidth":2}},"y2":{"field":"lower"}}},
{"data":{"values":[{"pc1":-0.315,"upper":-0.004,"lower":-0.004},{"pc1":-0.303,"upper":0.048,"lower":-0.059},{"pc1":-0.269,"upper":0.092,"lower":-0.116},{"pc1":-0.193,"upper":0.135,"lower":-0.184},{"pc1":-0.091,"upper":0.153,"lower":-0.237},{"pc1":0.025,"upper":0.146,"lower":-0.27},{"pc1":0.141,"upper":0.113,"lower":-0.277},{"pc1":0.244,"upper":0.06,"lower":-0.259},{"pc1":0.32,"upper":-0.008,"lower":-0.216},{"pc1":0.354,"upper":-0.065,"lower":-0.172},{"pc1":0.365,"upper":-0.12,"lower":-0.12}]},
"mark":{"type":"area","color":"#0D6DA3","opacity":0.5,"interpolate":"cardinal"},
"encoding":{"x":{"field":"pc1","type":"quantitative"},"y":{"field":"upper","type":"quantitative"},"y2":{"field":"lower"}}},
{"mark":{"type":"rule","color":"#666","strokeDash":[4,5],"strokeWidth":3},"encoding":{"x":{"datum":0}}},
{"mark":{"type":"rule","color":"#666","strokeDash":[4,5],"strokeWidth":3},"encoding":{"y":{"datum":0}}},
{"data":{"values":[{"group":"CC","day":"D40","pc1":0.494,"pc2":0.1226,"labelX":0.498,"labelY":0.094},{"group":"CC","day":"D3","pc1":-0.299,"pc2":0.094,"labelX":-0.283,"labelY":0.114},{"group":"CC","day":"D2","pc1":-0.151,"pc2":0.0704,"labelX":-0.16,"labelY":0.092},{"group":"CC","day":"D1","pc1":-0.123,"pc2":0.0727,"labelX":-0.1,"labelY":0.094},{"group":"CC","day":"D5","pc1":-0.223,"pc2":-0.005,"labelX":-0.217,"labelY":-0.045},{"group":"CC","day":"D0","pc1":0.0385,"pc2":-0.067,"labelX":0.063,"labelY":-0.097},{"group":"CC","day":"D7","pc1":0.016,"pc2":-0.2196,"labelX":-0.011,"labelY":-0.244},{"group":"CC","day":"D10","pc1":0.073,"pc2":-0.255,"labelX":0.106,"labelY":-0.279},{"group":"CC","day":"D14","pc1":0.181,"pc2":-0.222,"labelX":0.164,"labelY":-0.211},{"group":"CC","day":"D30","pc1":0.242,"pc2":-0.213,"labelX":0.287,"labelY":-0.203},{"group":"RC","day":"D40","pc1":0.501,"pc2":0.222,"labelX":0.453,"labelY":0.216},{"group":"RC","day":"D30","pc1":0.493,"pc2":0.156,"labelX":0.443,"labelY":0.154},{"group":"RC","day":"D3","pc1":-0.178,"pc2":0.064,"labelX":-0.21,"labelY":0.057},{"group":"RC","day":"D10","pc1":-0.331,"pc2":0.102,"labelX":-0.383,"labelY":0.084},{"group":"RC","day":"D5","pc1":-0.29,"pc2":0.093,"labelX":-0.272,"labelY":0.067},{"group":"RC","day":"D1","pc1":-0.091,"pc2":0.067,"labelX":-0.05,"labelY":0.061},{"group":"RC","day":"D7","pc1":-0.161,"pc2":0.0475,"labelX":-0.16,"labelY":0.017},{"group":"RC","day":"D2","pc1":-0.14,"pc2":0.05,"labelX":-0.098,"labelY":0.02},{"group":"RC","day":"D0","pc1":0.021,"pc2":-0.056,"labelX":0.046,"labelY":-0.04},{"group":"RC","day":"D14","pc1":-0.078,"pc2":-0.0998,"labelX":-0.064,"labelY":-0.131}]},
"layer":[
{"mark":{"type":"point","filled":true,"opacity":1},"encoding":{"x":{"field":"pc1","type":"quantitative"},"y":{"field":"pc2","type":"quantitative"},"color":{"field":"group","type":"nominal","scale":{"domain":["CC","RC"],"range":["#6650FF","#FF7A66"]},"legend":null},"shape":{"field":"group","type":"nominal","scale":{"domain":["CC","RC"],"range":["circle","triangle-up"]},"legend":null},"size":{"field":"group","type":"ordinal","scale":{"domain":["CC","RC"],"range":[330,720]},"legend":null}}},
{"mark":{"type":"text","fontWeight":"bold","fontSize":26,"color":"#111"},"encoding":{"x":{"field":"labelX","type":"quantitative"},"y":{"field":"labelY","type":"quantitative"},"text":{"field":"day"}}}
]},
{"data":{"values":[{"group":"CC","pc1":-0.445,"pc2":0.256},{"group":"RC","pc1":-0.444,"pc2":0.205}]},"layer":[
{"mark":{"type":"point","filled":true,"opacity":1,"size":1000},"encoding":{"x":{"field":"pc1","type":"quantitative"},"y":{"field":"pc2","type":"quantitative"},"color":{"field":"group","type":"nominal","legend":null},"shape":{"field":"group","type":"nominal","legend":null}}},
{"mark":{"type":"text","fontWeight":"bold","fontSize":42,"align":"left","dx":40,"color":"#111"},"encoding":{"x":{"field":"pc1","type":"quantitative"},"y":{"field":"pc2","type":"quantitative"},"text":{"field":"group"}}}
]},
{"data":{"values":[{"tag":"(a)","pc1":-0.653,"pc2":0.2575},{"tag":"(b)","pc1":-0.651,"pc2":-0.397},{"tag":"(d)","pc1":-0.638,"pc2":-1.073}]},"mark":{"type":"text","fontWeight":"bold","fontSize":68,"color":"#111"},"encoding":{"x":{"field":"pc1","type":"quantitative"},"y":{"field":"pc2","type":"quantitative"},"text":{"field":"tag"}}},
{"mark":{"type":"rule","color":"#444","strokeWidth":2},"encoding":{"y":{"datum":0.3}}},
{"mark":{"type":"rule","color":"#444","strokeWidth":2},"encoding":{"x":{"datum":0.6}}}
]},
{"width":879,"height":707,
"data":{"values":[{"day":"0","group":"CC","value":5.09,"err":0.03},{"day":"0","group":"RC","value":5.07,"err":0.04},{"day":"1","group":"CC","value":3.47,"err":0.04},{"day":"1","group":"RC","value":3.45,"err":0.04},{"day":"2","group":"CC","value":3.56,"err":0.02},{"day":"2","group":"RC","value":3.63,"err":0.03},{"day":"3","group":"CC","value":3.28,"err":0.03},{"day":"3","group":"RC","value":4.16,"err":0.04},{"day":"5","group":"CC","value":3.21,"err":0.04},{"day":"5","group":"RC","value":3.61,"err":0.04},{"day":"7","group":"CC","value":3.7,"err":0.03},{"day":"7","group":"RC","value":4.37,"err":0.03},{"day":"10","group":"CC","value":3.94,"err":0.03},{"day":"10","group":"RC","value":3,"err":0.03},{"day":"14","group":"CC","value":4.39,"err":0.03},{"day":"14","group":"RC","value":4.15,"err":0.02},{"day":"30","group":"CC","value":4.38,"err":0.02},{"day":"30","group":"RC","value":4.5,"err":0.04},{"day":"40","group":"CC","value":4.57,"err":0.04},{"day":"40","group":"RC","value":4.43,"err":0.04}]},
"transform":[{"calculate":"datum.value-datum.err","as":"lo"},{"calculate":"datum.value+datum.err","as":"hi"}],
"layer":[
{"mark":{"type":"bar","stroke":"#222","strokeWidth":1.5},"encoding":{"x":{"field":"day","type":"nominal","sort":["0","1","2","3","5","7","10","14","30","40"],"scale":{"paddingInner":0.2,"paddingOuter":0.1},"axis":{"title":null,"labelAngle":0,"labelFontSize":34,"labelFontWeight":"bold","tickSize":12,"tickWidth":3,"domainWidth":3,"domainColor":"#111","tickColor":"#111","labelPadding":10}},"xOffset":{"field":"group","type":"nominal","scale":{"paddingInner":0,"paddingOuter":0}},"y":{"field":"value","type":"quantitative","scale":{"domain":[0,6]},"axis":{"values":[0,0.5,1,1.5,2,2.5,3,3.5,4,4.5,5,5.5,6],"labelExpr":"datum.value%1==0?format(datum.value,'d'):''","title":"Shannon index","titleFontSize":42,"titleFontWeight":"bold","labelFontSize":34,"labelFontWeight":"bold","tickSize":{"condition":{"test":"datum.value%1!=0","value":5},"value":10},"tickWidth":3,"domainWidth":3,"domainColor":"#111","tickColor":"#111","labelPadding":12,"titlePadding":8}},"color":{"field":"group","type":"nominal","scale":{"domain":["CC","RC"],"range":["#FCC794","#9DD79A"]},"legend":null}}},
{"mark":{"type":"rule","color":"#444","strokeWidth":2},"encoding":{"x":{"field":"day","type":"nominal","sort":["0","1","2","3","5","7","10","14","30","40"]},"xOffset":{"field":"group","type":"nominal"},"y":{"field":"lo","type":"quantitative"},"y2":{"field":"hi"}}},
{"mark":{"type":"tick","color":"#444","thickness":2,"size":16},"encoding":{"x":{"field":"day","type":"nominal","sort":["0","1","2","3","5","7","10","14","30","40"]},"xOffset":{"field":"group","type":"nominal"},"y":{"field":"hi","type":"quantitative"}}},
{"data":{"values":[{"group":"CC","level":5.53},{"group":"RC","level":5.14}]},"layer":[
{"mark":{"type":"rect","width":82,"height":42,"xOffset":-118,"stroke":"#222","strokeWidth":2},"encoding":{"x":{"datum":"40"},"y":{"field":"level","type":"quantitative"},"color":{"field":"group","type":"nominal","legend":null}}},
{"mark":{"type":"text","fontSize":36,"align":"left","xOffset":-72,"color":"#222"},"encoding":{"x":{"datum":"40"},"y":{"field":"level","type":"quantitative"},"text":{"field":"group"}}}
]},
{"mark":{"type":"rule","color":"#111","strokeWidth":2},"encoding":{"y":{"datum":6}}},
{"mark":{"type":"rule","color":"#111","strokeWidth":2},"encoding":{"x":{"value":879}}}
]}
],"spacing":134,"bounds":"flush","resolve":{"scale":{"color":"independent","shape":"independent","size":"independent"},"legend":{"color":"independent","shape":"independent"}}},
{"width":1466,"height":1466,
"layer":[
{"data":{"name":"segments"},
"transform":[{"stack":"share","groupby":["side","day"],"as":["d0","d1"]},{"stack":"share","groupby":["phylum"],"sort":[{"field":"start","order":"descending"}],"as":["p0","p1"]},{"joinaggregate":[{"op":"sum","field":"share","as":"total"}],"groupby":["phylum"]},{"lookup":"phylum","from":{"data":{"name":"sectors"},"key":"phylum","fields":["a0","a1"]}},{"calculate":"datum.start+datum.d0*5.3","as":"ring0"},{"calculate":"datum.start+datum.d1*5.3","as":"ring1"},{"calculate":"datum.start+(datum.d0+datum.d1)/2*5.3","as":"dayAngle"},{"calculate":"datum.a0+(datum.p0+datum.p1)/2/datum.total*(datum.a1-datum.a0)","as":"phylumAngle"},{"calculate":"datum.share*32.8","as":"ribbon"},{"calculate":"datum.side+datum.day+datum.phylum","as":"chord"}],
"layer":[
{"transform":[{"calculate":"[0,1,2]","as":"t"},{"flatten":["t"]},{"calculate":"datum.t==0?354*sin(datum.dayAngle*PI/180):datum.t==2?354*sin(datum.phylumAngle*PI/180):0","as":"x"},{"calculate":"datum.t==0?354*cos(datum.dayAngle*PI/180):datum.t==2?354*cos(datum.phylumAngle*PI/180):0","as":"y"}],
"mark":{"type":"line","interpolate":"basis","opacity":0.36,"strokeCap":"butt"},
"encoding":{"x":{"field":"x","type":"quantitative","scale":{"domain":[-733,733],"nice":false,"zero":false},"axis":null},"y":{"field":"y","type":"quantitative","scale":{"domain":[-733,733],"nice":false,"zero":false},"axis":null},"order":{"field":"t","type":"quantitative"},"detail":{"field":"chord"},"strokeWidth":{"field":"ribbon","type":"quantitative","scale":null},"color":{"field":"phylum","type":"nominal","scale":{"domain":["Firmicutes","Proteobacteria","Actinobacteriota","Bacteroidota","Chloroflexi","Deinococcota","others","Cyanobacteria","Myxococcota","Gemmatimonadota","Acidobacteriota","Planctomycetota","Campilobacterota","Desulfobacterota","CC","RC","CC thin","RC thin"],"range":["#FFDD33","#FFC8D4","#FF99F5","#FF8C8C","#EFE7A8","#C77FDD","#FF66EE","#BFDFFF","#DDD2F2","#FFAA33","#55B5F5","#E8E29A","#FFB8CC","#FFCC00","#3333FF","#FF3333","#6B62C8","#FF5A3C"]},"legend":null}}},
{"mark":{"type":"arc"},"encoding":{"theta":{"field":"ring0","type":"quantitative","scale":{"domain":[0,360],"range":[0,6.283185]}},"theta2":{"field":"ring1"},"radius":{"datum":355,"type":"quantitative","scale":{"type":"linear","domain":[0,733],"range":[0,733]}},"radius2":{"datum":369},"color":{"field":"phylum","type":"nominal"}}},
{"mark":{"type":"arc"},"encoding":{"theta":{"field":"ring0","type":"quantitative"},"theta2":{"field":"ring1"},"radius":{"datum":521,"type":"quantitative"},"radius2":{"datum":534},"color":{"field":"phylum","type":"nominal"}}}
]},
{"data":{"name":"sectors"},
"layer":[
{"transform":[{"filter":"datum.kind!='small'"}],"mark":{"type":"arc"},"encoding":{"theta":{"field":"a0","type":"quantitative"},"theta2":{"field":"a1"},"radius":{"datum":566,"type":"quantitative"},"radius2":{"datum":586},"color":{"field":"phylum","type":"nominal"}}},
{"mark":{"type":"arc"},"encoding":{"theta":{"field":"a0","type":"quantitative"},"theta2":{"field":"a1"},"radius":{"datum":369,"type":"quantitative"},"radius2":{"datum":390},"color":{"field":"phylum","type":"nominal"}}},
{"transform":[{"calculate":"datum.labelRadius*sin(datum.labelAngle*PI/180)","as":"x"},{"calculate":"datum.labelRadius*cos(datum.labelAngle*PI/180)","as":"y"},{"calculate":"datum.labelAngle-90","as":"rot"},{"filter":"datum.kind=='major'"}],"mark":{"type":"text","fontWeight":"bold","fontSize":56,"color":"#111"},"encoding":{"x":{"field":"x","type":"quantitative"},"y":{"field":"y","type":"quantitative"},"text":{"field":"phylum"},"angle":{"field":"rot","type":"quantitative","scale":null}}},
{"transform":[{"calculate":"datum.labelRadius*sin(datum.labelAngle*PI/180)","as":"x"},{"calculate":"datum.labelRadius*cos(datum.labelAngle*PI/180)","as":"y"},{"calculate":"datum.labelAngle-90","as":"rot"},{"filter":"datum.kind!='major'"}],"mark":{"type":"text","font":"Liberation Sans","fontSize":31,"color":"#222"},"encoding":{"x":{"field":"x","type":"quantitative"},"y":{"field":"y","type":"quantitative"},"text":{"field":"phylum"},"angle":{"field":"rot","type":"quantitative","scale":null}}},
{"transform":[{"filter":"datum.kind=='major'"},{"calculate":"421*sin(datum.a0*PI/180)","as":"x"},{"calculate":"421*cos(datum.a0*PI/180)","as":"y"},{"calculate":"datum.a0-90","as":"rot"},{"calculate":"'0k'","as":"zero"}],"mark":{"type":"text","font":"Liberation Sans","fontSize":20,"color":"#333"},"encoding":{"x":{"field":"x","type":"quantitative"},"y":{"field":"y","type":"quantitative"},"text":{"field":"zero"},"angle":{"field":"rot","type":"quantitative","scale":null}}},
{"transform":[{"calculate":"393*sin(datum.a0*PI/180)","as":"x"},{"calculate":"393*cos(datum.a0*PI/180)","as":"y"},{"calculate":"404*sin(datum.a0*PI/180)","as":"x2"},{"calculate":"404*cos(datum.a0*PI/180)","as":"y2"}],"mark":{"type":"rule","color":"#111","strokeWidth":2},"encoding":{"x":{"field":"x","type":"quantitative"},"y":{"field":"y","type":"quantitative"},"x2":{"field":"x2"},"y2":{"field":"y2"}}},
{"transform":[{"filter":"datum.kind=='small'"},{"calculate":"526*sin(datum.a0*PI/180)","as":"x"},{"calculate":"526*cos(datum.a0*PI/180)","as":"y"},{"calculate":"535*sin(datum.a0*PI/180)","as":"x2"},{"calculate":"535*cos(datum.a0*PI/180)","as":"y2"}],"mark":{"type":"rule","color":"#111","strokeWidth":7},"encoding":{"x":{"field":"x","type":"quantitative"},"y":{"field":"y","type":"quantitative"},"x2":{"field":"x2"},"y2":{"field":"y2"}}}
]},
{"data":{"name":"mix"},
"transform":[{"lookup":"phylum","from":{"data":{"name":"sectors"},"key":"phylum","fields":["a0","a1"]}},{"calculate":"datum.a0+(datum.a1-datum.a0)*datum.from/100","as":"m0"},{"calculate":"datum.a0+(datum.a1-datum.a0)*datum.to/100","as":"m1"},{"calculate":"datum.side+' thin'","as":"thin"}],
"layer":[
{"mark":{"type":"arc"},"encoding":{"theta":{"field":"m0","type":"quantitative"},"theta2":{"field":"m1"},"radius":{"datum":537,"type":"quantitative"},"radius2":{"datum":560},"color":{"field":"side","type":"nominal"}}},
{"mark":{"type":"arc"},"encoding":{"theta":{"field":"m0","type":"quantitative"},"theta2":{"field":"m1"},"radius":{"datum":354,"type":"quantitative"},"radius2":{"datum":363},"color":{"field":"thin","type":"nominal"}}}
]},
{"data":{"name":"days"},
"transform":[{"calculate":"datum.start+5.3","as":"end"},{"calculate":"datum.start+2.65","as":"mid"}],
"layer":[
{"mark":{"type":"arc"},"encoding":{"theta":{"field":"start","type":"quantitative"},"theta2":{"field":"end"},"radius":{"datum":553,"type":"quantitative"},"radius2":{"datum":570},"color":{"field":"side","type":"nominal"}}},
{"mark":{"type":"arc"},"encoding":{"theta":{"field":"start","type":"quantitative"},"theta2":{"field":"end"},"radius":{"datum":370,"type":"quantitative"},"radius2":{"datum":391},"color":{"field":"side","type":"nominal"}}},
{"transform":[{"calculate":"517*sin(datum.start*PI/180)","as":"x"},{"calculate":"517*cos(datum.start*PI/180)","as":"y"},{"calculate":"517*sin(datum.end*PI/180)","as":"x2"},{"calculate":"517*cos(datum.end*PI/180)","as":"y2"}],"mark":{"type":"rule","color":"#111","strokeWidth":8,"strokeDash":[2,2.8]},"encoding":{"x":{"field":"x","type":"quantitative"},"y":{"field":"y","type":"quantitative"},"x2":{"field":"x2"},"y2":{"field":"y2"}}},
{"transform":[{"calculate":"393*sin(datum.start*PI/180)","as":"x"},{"calculate":"393*cos(datum.start*PI/180)","as":"y"},{"calculate":"404*sin(datum.start*PI/180)","as":"x2"},{"calculate":"404*cos(datum.start*PI/180)","as":"y2"}],"mark":{"type":"rule","color":"#111","strokeWidth":2},"encoding":{"x":{"field":"x","type":"quantitative"},"y":{"field":"y","type":"quantitative"},"x2":{"field":"x2"},"y2":{"field":"y2"}}},
{"transform":[{"calculate":"688*sin(datum.mid*PI/180)","as":"x"},{"calculate":"688*cos(datum.mid*PI/180)","as":"y"},{"calculate":"datum.mid-270","as":"rot"}],"mark":{"type":"text","fontWeight":"bold","fontSize":40,"color":"#111"},"encoding":{"x":{"field":"x","type":"quantitative"},"y":{"field":"y","type":"quantitative"},"text":{"field":"day"},"angle":{"field":"rot","type":"quantitative","scale":null}}}
]},
{"data":{"name":"axisTicks"},
"transform":[{"flatten":["pct"]},{"lookup":"phylum","from":{"data":{"name":"sectors"},"key":"phylum","fields":["a0","a1"]}},{"calculate":"datum.a0+(datum.a1-datum.a0)*datum.pct/100","as":"at"}],
"layer":[
{"transform":[{"calculate":"526*sin(datum.at*PI/180)","as":"x"},{"calculate":"526*cos(datum.at*PI/180)","as":"y"},{"calculate":"535*sin(datum.at*PI/180)","as":"x2"},{"calculate":"535*cos(datum.at*PI/180)","as":"y2"}],"mark":{"type":"rule","color":"#222","strokeWidth":2.5},"encoding":{"x":{"field":"x","type":"quantitative"},"y":{"field":"y","type":"quantitative"},"x2":{"field":"x2"},"y2":{"field":"y2"}}},
{"transform":[{"filter":"datum.labelled"},{"calculate":"490*sin(datum.at*PI/180)","as":"x"},{"calculate":"490*cos(datum.at*PI/180)","as":"y"},{"calculate":"datum.at-90","as":"rot"},{"calculate":"datum.pct+'%'","as":"tag"}],"mark":{"type":"text","font":"Liberation Sans","fontSize":21,"color":"#333"},"encoding":{"x":{"field":"x","type":"quantitative"},"y":{"field":"y","type":"quantitative"},"text":{"field":"tag"},"angle":{"field":"rot","type":"quantitative","scale":null}}}
]},
{"data":{"values":[{"side":"CC","x":680,"y":449},{"side":"RC","x":680,"y":385}]},"layer":[
{"mark":{"type":"rect","width":155,"height":46},"encoding":{"x":{"field":"x","type":"quantitative"},"y":{"field":"y","type":"quantitative"},"color":{"field":"side","type":"nominal"}}},
{"mark":{"type":"text","fontWeight":"bold","fontSize":48,"align":"left","dx":97,"color":"#111"},"encoding":{"x":{"field":"x","type":"quantitative"},"y":{"field":"y","type":"quantitative"},"text":{"field":"side"}}}
]},
{"data":{"values":[{"tag":"(c)","x":-589,"y":685}]},"mark":{"type":"text","fontWeight":"bold","fontSize":68,"color":"#111"},"encoding":{"x":{"field":"x","type":"quantitative"},"y":{"field":"y","type":"quantitative"},"text":{"field":"tag"}}}
]}
],"spacing":1003,"bounds":"flush","resolve":{"scale":{"color":"independent","shape":"independent","size":"independent"},"legend":{"color":"independent","shape":"independent"}}}
],"spacing":44,"bounds":"flush","resolve":{"scale":{"color":"independent","shape":"independent","size":"independent"},"legend":{"color":"independent","shape":"independent"}}},
{"hconcat":[
{"width":1,"height":1,"data":{"values":[{"a":1}]},"mark":{"type":"point","opacity":0}},
{"hconcat":[
{"width":1243,"height":857,"data":{"name":"abundance"},
"transform":[{"filter":"datum.group=='CC'"},{"impute":"value","key":"class","groupby":["day"],"value":0},{"lookup":"class","from":{"data":{"name":"classes"},"key":"class","fields":["order"]}},{"stack":"value","groupby":["day"],"sort":[{"field":"order"}],"as":["y0","y1"]},{"calculate":"(datum.y0+datum.y1)/2","as":"mid"},{"calculate":"indexof(['D0','D1','D2','D3','D5','D7','D10','D14','D30','D40'],datum.day)","as":"dayIndex"},{"window":[{"op":"lead","field":"y1","as":"nextTop"},{"op":"lead","field":"day","as":"nextDay"}],"groupby":["class"],"sort":[{"field":"dayIndex"}]}],
"encoding":{"x":{"field":"day","type":"nominal","sort":["D0","D1","D2","D3","D5","D7","D10","D14","D30","D40"],"scale":{"paddingInner":0.33,"paddingOuter":0.165},"axis":{"title":"CC","titleFontSize":72,"titleFontWeight":"bold","titlePadding":19,"labelAngle":0,"labelFontSize":42,"labelFontWeight":"bold","labelColor":"#111","tickSize":14,"tickWidth":3,"tickColor":"#111","domainWidth":3,"domainColor":"#111","labelPadding":12}}},
"layer":[
{"transform":[{"filter":"datum.value>0"}],"mark":{"type":"bar","stroke":"#222","strokeWidth":1.8},"encoding":{"y":{"field":"y0","type":"quantitative","scale":{"domain":[0,100]},"axis":{"values":[0,10,20,30,40,50,60,70,80,90,100],"labelExpr":"datum.value%20==0?datum.label:''","title":"Class abundance (%)","titleFontSize":73,"titleFontWeight":"bold","titlePadding":-23,"labelFontSize":42,"labelFontWeight":"bold","tickSize":{"condition":{"test":"datum.value%20!=0","value":9},"value":16},"tickWidth":3,"tickColor":"#111","domainWidth":3,"domainColor":"#111","labelPadding":12}},"y2":{"field":"y1"},"color":{"field":"class","type":"nominal","scale":{"domain":["Bacilli","Actinobacteria","Gammaproteobacteria","Bacteroidia","Clostridia","Alphaproteobacteria","Limnochordia","Chloroflexia","Saccharimonadia","Cyanobacteriia","Myxococcia","Acidimicrobiia","Spirochaetia","Polyangia","Campylobacteria","S0134_terrestrial_group","Anaerolineae","Deinococci","Gemmatimonadetes","Thermoleophilia","Blastocatellia","OLB14","Vicinamibacteria","Parcubacteria","Kapabacteria","Planctomycetes","Nitrospiria","Ignavibacteria","Verrucomicrobiae","Dojkabacteria","others"],"range":["#EE0000","#336699","#FFC312","#3CC070","#666699","#999999","#FF6666","#6699CC","#CC6600","#009999","#6666BB","#998877","#CC3333","#669999","#CC9900","#FF7777","#92B4D9","#FFD966","#A0E0B3","#B3B3CC","#CCCCCC","#FFA3A3","#AFC8E5","#FFB366","#A6FFFF","#B3B0E0","#CCC4BE","#E09999","#B3CCC9","#FFEDB3","#C6EFD6"]},"legend":null}}},
{"transform":[{"filter":"isValid(datum.nextDay)"}],"mark":{"type":"rule","color":"#333","strokeWidth":1.6,"xOffset":41.6,"x2Offset":-41.6},"encoding":{"x2":{"field":"nextDay"},"y":{"field":"y1","type":"quantitative"},"y2":{"field":"nextTop"}}},
{"transform":[{"filter":"isValid(datum.label)"}],"mark":{"type":"text","color":"white","fontWeight":"bold","fontSize":33},"encoding":{"y":{"field":"mid","type":"quantitative"},"text":{"field":"label"}}},
{"mark":{"type":"rule","color":"#111","strokeWidth":3,"xOffset":62,"y2Offset":9},"encoding":{"y":{"datum":0},"y2":{"datum":0}}}
]},
{"width":1249,"height":857,"data":{"name":"abundance"},
"transform":[{"filter":"datum.group=='RC'"},{"impute":"value","key":"class","groupby":["day"],"value":0},{"lookup":"class","from":{"data":{"name":"classes"},"key":"class","fields":["order"]}},{"stack":"value","groupby":["day"],"sort":[{"field":"order"}],"as":["y0","y1"]},{"calculate":"(datum.y0+datum.y1)/2","as":"mid"},{"calculate":"indexof(['D0','D1','D2','D3','D5','D7','D10','D14','D30','D40'],datum.day)","as":"dayIndex"},{"window":[{"op":"lead","field":"y1","as":"nextTop"},{"op":"lead","field":"day","as":"nextDay"}],"groupby":["class"],"sort":[{"field":"dayIndex"}]}],
"encoding":{"x":{"field":"day","type":"nominal","sort":["D0","D1","D2","D3","D5","D7","D10","D14","D30","D40"],"scale":{"paddingInner":0.33,"paddingOuter":0.165},"axis":{"title":"RC","titleFontSize":72,"titleFontWeight":"bold","titlePadding":19,"labelAngle":0,"labelFontSize":42,"labelFontWeight":"bold","labelColor":"#111","tickSize":14,"tickWidth":3,"tickColor":"#111","domainWidth":3,"domainColor":"#111","labelPadding":12}}},
"layer":[
{"transform":[{"filter":"datum.value>0"}],"mark":{"type":"bar","stroke":"#222","strokeWidth":1.8},"encoding":{"y":{"field":"y0","type":"quantitative","scale":{"domain":[0,100]},"axis":{"values":[0,10,20,30,40,50,60,70,80,90,100],"labelExpr":"datum.value%20==0?datum.label:''","title":null,"labelFontSize":42,"labelFontWeight":"bold","tickSize":{"condition":{"test":"datum.value%20!=0","value":9},"value":16},"tickWidth":3,"tickColor":"#111","domainWidth":3,"domainColor":"#111","labelPadding":12}},"y2":{"field":"y1"},"color":{"field":"class","type":"nominal","scale":{"domain":["Bacilli","Actinobacteria","Gammaproteobacteria","Bacteroidia","Clostridia","Alphaproteobacteria","Limnochordia","Chloroflexia","Saccharimonadia","Cyanobacteriia","Myxococcia","Acidimicrobiia","Spirochaetia","Polyangia","Campylobacteria","S0134_terrestrial_group","Anaerolineae","Deinococci","Gemmatimonadetes","Thermoleophilia","Blastocatellia","OLB14","Vicinamibacteria","Parcubacteria","Kapabacteria","Planctomycetes","Nitrospiria","Ignavibacteria","Verrucomicrobiae","Dojkabacteria","others"],"range":["#EE0000","#336699","#FFC312","#3CC070","#666699","#999999","#FF6666","#6699CC","#CC6600","#009999","#6666BB","#998877","#CC3333","#669999","#CC9900","#FF7777","#92B4D9","#FFD966","#A0E0B3","#B3B3CC","#CCCCCC","#FFA3A3","#AFC8E5","#FFB366","#A6FFFF","#B3B0E0","#CCC4BE","#E09999","#B3CCC9","#FFEDB3","#C6EFD6"]},"legend":null}}},
{"transform":[{"filter":"isValid(datum.nextDay)"}],"mark":{"type":"rule","color":"#333","strokeWidth":1.6,"xOffset":41.8,"x2Offset":-41.8},"encoding":{"x2":{"field":"nextDay"},"y":{"field":"y1","type":"quantitative"},"y2":{"field":"nextTop"}}},
{"transform":[{"filter":"isValid(datum.label)"}],"mark":{"type":"text","color":"white","fontWeight":"bold","fontSize":33},"encoding":{"y":{"field":"mid","type":"quantitative"},"text":{"field":"label"}}},
{"mark":{"type":"rule","color":"#111","strokeWidth":3,"xOffset":62.4,"y2Offset":9},"encoding":{"y":{"datum":0},"y2":{"datum":0}}}
]}
],"spacing":104,"bounds":"flush","resolve":{"scale":{"color":"independent"},"legend":{"color":"independent"}}}
],"spacing":74,"bounds":"flush","resolve":{"scale":{"color":"independent"},"legend":{"color":"independent"}}}
],"spacing":1697,"bounds":"flush","resolve":{"scale":{"color":"independent","shape":"independent","size":"independent"},"legend":{"color":"independent","shape":"independent"}}},
{"width":2737,"height":249,"view":{"stroke":"#111","strokeWidth":4},"data":{"name":"classes"},
"encoding":{"x":{"field":"col","type":"quantitative","scale":{"domain":[1,2,3,4,5,6,7],"range":[50,480,860,1332,1836,2238,2575]},"axis":null},"y":{"field":"row","type":"quantitative","scale":{"domain":[1,2,3,4,5],"range":[26,74,122,173,221]},"axis":null}},
"layer":[
{"mark":{"type":"rect","width":88,"height":42,"stroke":"#444","strokeWidth":2.5},"encoding":{"color":{"field":"class","type":"nominal","scale":{"domain":["Bacilli","Actinobacteria","Gammaproteobacteria","Bacteroidia","Clostridia","Alphaproteobacteria","Limnochordia","Chloroflexia","Saccharimonadia","Cyanobacteriia","Myxococcia","Acidimicrobiia","Spirochaetia","Polyangia","Campylobacteria","S0134_terrestrial_group","Anaerolineae","Deinococci","Gemmatimonadetes","Thermoleophilia","Blastocatellia","OLB14","Vicinamibacteria","Parcubacteria","Kapabacteria","Planctomycetes","Nitrospiria","Ignavibacteria","Verrucomicrobiae","Dojkabacteria","others"],"range":["#EE0000","#336699","#FFC312","#3CC070","#666699","#999999","#FF6666","#6699CC","#CC6600","#009999","#6666BB","#998877","#CC3333","#669999","#CC9900","#FF7777","#92B4D9","#FFD966","#A0E0B3","#B3B3CC","#CCCCCC","#FFA3A3","#AFC8E5","#FFB366","#A6FFFF","#B3B0E0","#CCC4BE","#E09999","#B3CCC9","#FFEDB3","#C6EFD6"]},"legend":null}}},
{"mark":{"type":"text","align":"left","dx":53,"fontSize":39,"fontWeight":"bold","fontStyle":"italic","color":"#111"},"encoding":{"text":{"field":"class"}}}
]}
],"spacing":2715,"bounds":"flush","resolve":{"scale":{"color":"independent","shape":"independent","size":"independent"},"legend":{"color":"independent","shape":"independent"}}}
